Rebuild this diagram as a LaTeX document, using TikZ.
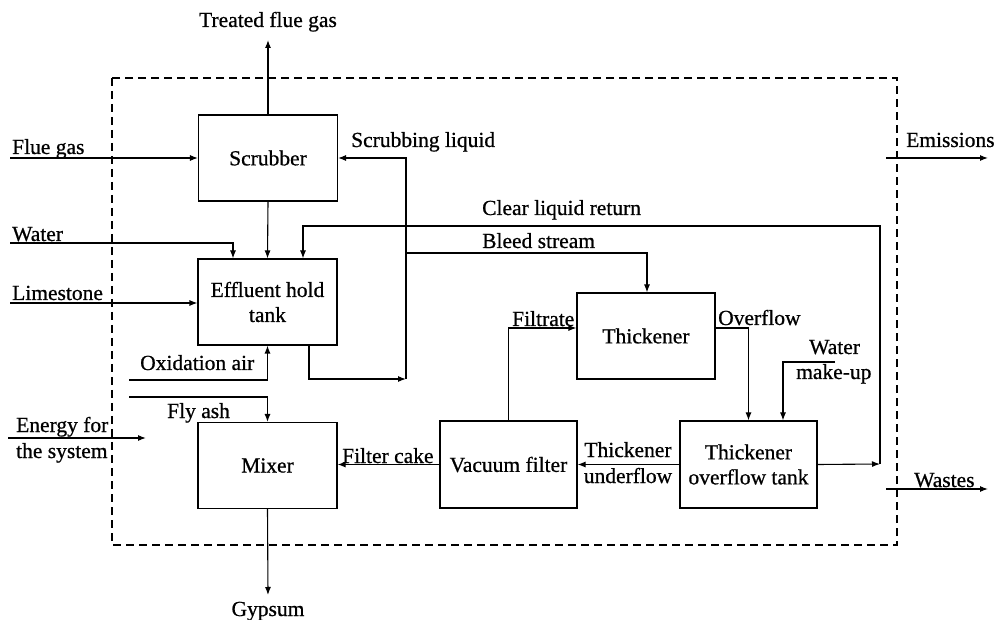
\documentclass[tikz,border=0pt]{standalone}
\usepackage{fontspec}
\setmainfont{Liberation Serif}[FakeBold=0.7]
\usetikzlibrary{arrows.meta}
\begin{document}
\begin{tikzpicture}[x=1pt,y=-1pt,
 box/.style={draw,line width=1.1pt,minimum width=139pt,minimum height=86pt,inner sep=0pt,align=center,font=\fontsize{21.5}{25}\selectfont},
 lbl/.style={inner sep=0pt,font=\fontsize{21.5}{25}\selectfont},
 flow/.style={line width=1.1pt,-{Latex[length=8pt,width=6pt]}},
 ln/.style={line width=1.1pt}]
\useasboundingbox (0,0) rectangle (994,620);
\draw[line width=1.1pt, dash pattern=on 8pt off 5pt] (112,78) rectangle (897,545);
% boxes
\node[box] (scrub) at (268,158) {Scrubber};
\node[box] (eff) at (267.5,302) {Effluent hold\\tank};
\node[box] (mix) at (267.5,465.5) {Mixer};
\node[box,minimum width=138pt] (thick) at (646,336) {Thickener};
\node[box,minimum width=137pt,minimum height=87pt] (vf) at (508.5,464.5) {Vacuum filter};
\node[box,minimum width=137pt,minimum height=87pt] (tank) at (748.5,464.5) {Thickener\\overflow tank};
% free ends
\coordinate (tfg) at (268,40);
\coordinate (fgin) at (10,158);
\coordinate (waterin) at (10,243);
\coordinate (limein) at (10,303);
\coordinate (oxin) at (129,380);
\coordinate (fain) at (129,397);
\coordinate (enin) at (8,438);
\coordinate (enend) at (146,438);
\coordinate (gyp) at (268,595);
\coordinate (j1) at (406,379);
\coordinate (bl) at (406,253);
\coordinate (j2) at (880,464);
\coordinate (cr) at (880,226);
\coordinate (wm) at (835,362);
\coordinate (em1) at (886,158);
\coordinate (em2) at (988,158);
\coordinate (wa1) at (886,489);
\coordinate (wa2) at (988,489);
% connectors
\draw[flow] (scrub.north) -- (tfg);
\draw[flow] (fgin) -- (scrub.west);
\draw[flow] (scrub.south) -- (eff.north);
\draw[flow] (waterin) -| ([xshift=-34.5pt]eff.north);
\draw[flow] (limein) -- (limein -| eff.west);
\draw[flow] (oxin) -| (eff.south);
\draw[flow] (fain) -| (mix.north);
\draw[flow] (enin) -- (enend);
\draw[flow] (mix.south) -- (gyp);
\draw[flow] (vf.west) -- (vf.west -| mix.east);
\draw[flow] ([xshift=41.5pt]eff.south) |- (j1);
\draw[flow] (j1) |- (scrub.east);
\draw[flow] (bl) -| ([xshift=1pt]thick.north);
\draw[flow] (tank.east) -- (j2);
\draw[flow] (j2) -- (cr) -| ([xshift=35.5pt]eff.north);
\draw[flow] ([yshift=8pt]thick.east) -| (tank.north);
\draw[flow] (vf.north) |- ([yshift=8pt]thick.west);
\draw[flow] (wm) -| ([xshift=34.5pt]tank.north);
\draw[flow] (tank.west) -- (vf.east);
\draw[flow] (em1) -- (em2);
\draw[flow] (wa1) -- (wa2);
% labels
\node[lbl,anchor=base] (ltfg) at (268,27) {Treated flue gas};
\node[lbl,anchor=base west] (lsl) at (351,147) {Scrubbing liquid};
\node[lbl,anchor=base west] (lfg) at (12,154) {Flue gas};
\node[lbl,anchor=base west] (lw) at (12,241) {Water};
\node[lbl,anchor=base west] (lls) at (12,300) {Limestone};
\node[lbl,anchor=base west] (lox) at (140,370) {Oxidation air};
\node[lbl,anchor=base west] (lfa) at (167,418) {Fly ash};
\node[lbl,anchor=base west] (len1) at (16,432) {Energy for};
\node[lbl,anchor=base west] (len2) at (16,458) {the system};
\node[lbl,anchor=base] (lgy) at (268,616) {Gypsum};
\node[lbl,anchor=base west] (lfc) at (342,463) {Filter cake};
\node[lbl,anchor=base west] (lcl) at (482,215) {Clear liquid return};
\node[lbl,anchor=base west] (lbs) at (482,248) {Bleed stream};
\node[lbl,anchor=base west] (lft) at (512,326) {Filtrate};
\node[lbl,anchor=base west] (lof) at (718,325) {Overflow};
\node[lbl,anchor=base west] (lwm1) at (809,354) {Water};
\node[lbl,anchor=base west] (lwm2) at (796,379) {make-up};
\node[lbl,anchor=base] (ltu1) at (628,457) {Thickener};
\node[lbl,anchor=base] (ltu2) at (628,483) {underflow};
\node[lbl,anchor=base west] (lem) at (906,147) {Emissions};
\node[lbl,anchor=base west] (lwa) at (914,487) {Wastes};
\end{tikzpicture}
\end{document}
